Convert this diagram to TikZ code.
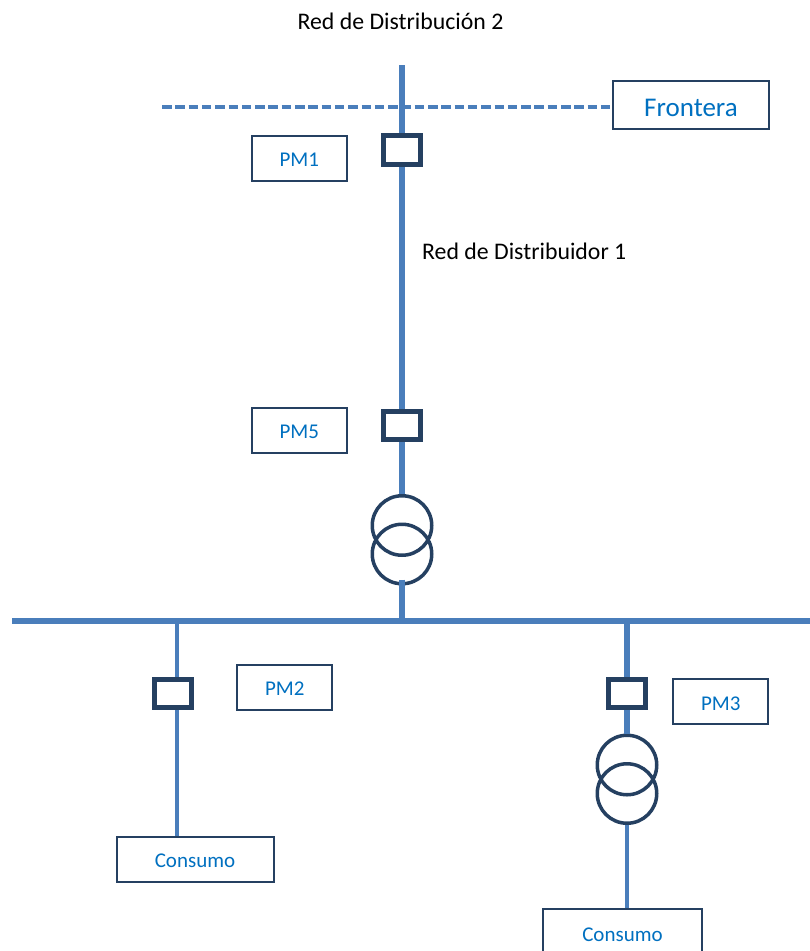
\documentclass[tikz,border=0pt]{standalone}
\usepackage{fontspec}
\setmainfont{Carlito}
\usetikzlibrary{positioning, calc}
\definecolor{linea}{HTML}{4A7EBB}
\definecolor{oscuro}{HTML}{254061}
\definecolor{texto}{HTML}{0070C0}

\begin{document}
\begin{tikzpicture}[
      x=1pt, y=-1pt,
      etiqueta/.style={
        rectangle,
        draw=oscuro,
        line width=2pt,
        fill=white,
        text=texto,
        text height=17.5pt,
        minimum width=95pt,
        minimum height=45pt,
        inner sep=0pt,
        font=\fontsize{21}{25}\selectfont,
        align=center
      },
      carga/.style={etiqueta, minimum width=157pt},
      medidor/.style={
        rectangle,
        draw=oscuro,
        line width=5pt,
        fill=white,
        minimum width=37.5pt,
        minimum height=28.5pt,
        inner sep=0pt
      },
      devanado/.style={
        circle,
        draw=oscuro,
        line width=3.5pt,
        minimum size=59.5pt,
        inner sep=0pt
      },
      titulo/.style={font=\fontsize{23.8}{28}\selectfont, inner sep=0pt},
      red/.style={draw=linea, line width=6pt},
      ramal/.style={draw=linea, line width=4pt},
      limite/.style={draw=linea, line width=3.5pt, dash pattern=on 9.5pt off 3.8pt},
      node distance=33pt
    ]
    \useasboundingbox (0,0) rectangle (810,951);

    % Points of the lines
    \coordinate (barraA) at (12,621);
    \coordinate (barraB) at (810,621);
    \coordinate (alim) at (402,65);
    \coordinate (limA) at (162,107);
    \coordinate (toma2) at (177,621);

    % Texts
    \node[titulo] (red2) at (400.5,21) {Red de Distribución 2};
    \node[titulo, anchor=west] (red1) at (422,251) {Red de Distribuidor 1};

    % Nodes
    \node[etiqueta, minimum width=156pt, minimum height=48pt, text height=23pt,
          font=\fontsize{27}{32}\selectfont] (frontera) at (691,105) {Frontera};
    \node[medidor] (pm1) at (402,150) {};
    \node[etiqueta, left=33pt of pm1, yshift=-8pt] (lpm1) {PM1};
    \node[medidor] (pm5) at (402,425.5) {};
    \node[etiqueta, left=33pt of pm5, yshift=-4.5pt] (lpm5) {PM5};
    \node[devanado] (t1a) at (402,525.5) {};
    \node[devanado] (t1b) at (402,554) {};

    \node[medidor] (pm2) at (173,693.5) {};
    \node[etiqueta, right=42pt of pm2, yshift=6.5pt] (lpm2) {PM2};
    \node[carga] (con2) at (195,859) {Consumo};

    \node[medidor] (pm3) at (627,693.5) {};
    \node[etiqueta, right=24pt of pm3, yshift=-8pt] (lpm3) {PM3};
    \node[devanado] (t2a) at (627,765) {};
    \node[devanado] (t2b) at (627,793.5) {};
    \node[carga, minimum width=159pt, minimum height=48pt] (con3) at (622.5,932.5) {Consumo};

    % Lines
    \path (barraA) edge[red] (barraB)
          (alim) edge[red] (pm1)
          (pm1) edge[red] (pm5)
          (pm5) edge[red] (t1a)
          (t1b.south) edge[red, shorten <=-6pt] (t1b.south |- barraA)
          (pm3 |- barraA) edge[red] (pm3)
          (pm3) edge[red] (t2a)
          (toma2) edge[ramal] (toma2 |- pm2.north)
          (toma2 |- pm2.south) edge[ramal] (toma2 |- con2.north)
          (t2b) edge[ramal] (con3.north -| t2b);
    \path (limA) edge[limite] (limA -| frontera.west);
  \end{tikzpicture}
\end{document}
